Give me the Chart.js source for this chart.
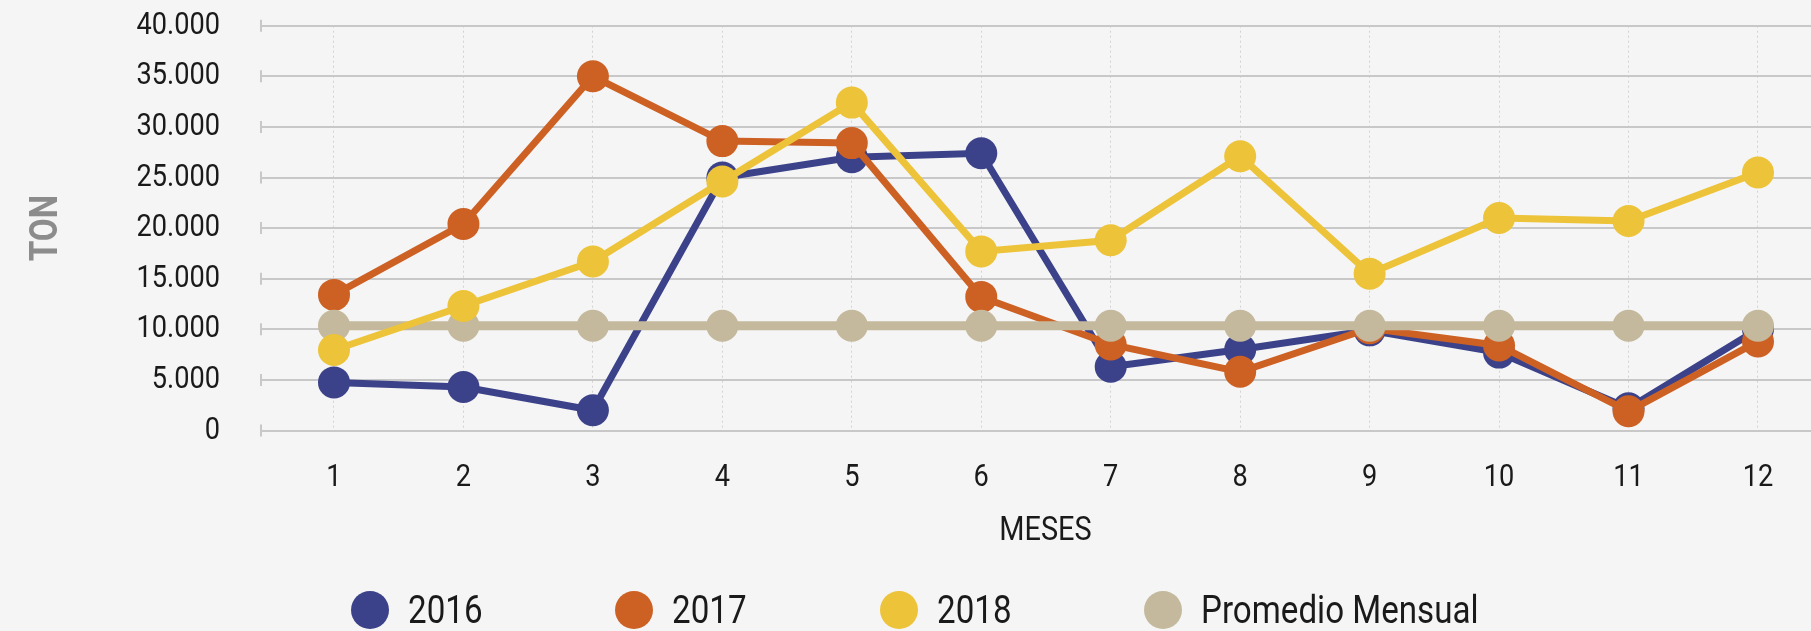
<!DOCTYPE html>
<html>
<head>
<meta charset="utf-8">
<script src="https://cdn.jsdelivr.net/npm/chart.js@4.4.1/dist/chart.umd.min.js"></script>
<style>
  html, body { margin: 0; padding: 0; background: #f5f5f5; overflow: hidden; }
  #wrap { position: relative; width: 1811px; height: 631px; overflow: hidden; }
  canvas { position: absolute; left: 0; top: 0; }
  #legend { position: absolute; left: 0; width: 1830px; top: 590px; height: 40px;
            display: flex; justify-content: center; align-items: center; gap: 133px;
            font-family: Roboto, 'Noto Sans', sans-serif; }
  .item { display: flex; align-items: center; font-size: 39px; line-height: 1; color: #1a1a1a; white-space: nowrap; }
  .dot { width: 38px; height: 38px; border-radius: 50%; margin-right: 19px; flex: none; }
  .txt { display: inline-block; transform: scaleX(0.85); transform-origin: 0 50%; }
</style>
</head>
<body>
<div id="wrap">
  <canvas id="c" width="1831" height="631"></canvas>
  <div id="legend"></div>
</div>
<script>
// ---- data ----
const months = [1, 2, 3, 4, 5, 6, 7, 8, 9, 10, 11, 12];
const seriesNames = ['2016', '2017', '2018', 'Promedio Mensual'];
const values2016 = [4750, 4300, 2000, 25000, 27000, 27400, 6300, 8000, 9900, 7700, 2200, 10000];
const values2017 = [13400, 20400, 35000, 28600, 28400, 13200, 8500, 5800, 10100, 8400, 1900, 8800];
const values2018 = [7950, 12300, 16700, 24600, 32400, 17700, 18800, 27100, 15500, 21000, 20700, 25500];
const valuesPromedio = [10350, 10350, 10350, 10350, 10350, 10350, 10350, 10350, 10350, 10350, 10350, 10350];
const yTicks = [0, 5000, 10000, 15000, 20000, 25000, 30000, 35000, 40000];
const xTitle = 'MESES';
const yTitle = 'TON';

const colors = ['#3c4289', '#cd6124', '#edc33a', '#c4b99d'];
const lineWidths = [7, 7, 7, 9];
const drawOrder = [3, 2, 0, 1]; // yellow on top, then gray, orange, blue
const FONT = "Roboto, 'Noto Sans', sans-serif";
const SX = 0.85; // horizontal condensing of text (condensed face look)

const allSeries = [values2016, values2017, values2018, valuesPromedio];
const fmt = v => String(v).replace(/\B(?=(\d{3})+(?!\d))/g, '.');

// condensed text rendering on the chart canvas
const canvas = document.getElementById('c');
const c2d = canvas.getContext('2d');
const nativeFill = CanvasRenderingContext2D.prototype.fillText;
c2d.fillText = function (text, x, y, maxWidth) {
  this.save();
  this.translate(x, y);
  this.scale(SX, 1);
  if (maxWidth === undefined || maxWidth === null) nativeFill.call(this, text, 0, 0);
  else nativeFill.call(this, text, 0, 0, maxWidth / SX);
  this.restore();
};

const datasets = allSeries.map((vals, i) => ({
  label: seriesNames[i],
  data: months.map((m, j) => ({ x: m, y: vals[j] })),
  borderColor: colors[i],
  backgroundColor: colors[i],
  pointBackgroundColor: colors[i],
  pointBorderWidth: 0,
  pointRadius: 16,
  pointHoverRadius: 16,
  borderWidth: lineWidths[i],
  tension: 0,
  order: drawOrder[i]
}));

const tickMarks = {
  id: 'tickMarks',
  beforeDatasetsDraw(chart) {
    const { ctx, chartArea, scales } = chart;
    ctx.save();
    ctx.strokeStyle = '#c8c8c8';
    ctx.lineWidth = 2;
    scales.y.ticks.forEach(t => {
      const y = scales.y.getPixelForValue(t.value);
      ctx.beginPath();
      ctx.moveTo(chartArea.left + 1, y - 6);
      ctx.lineTo(chartArea.left + 1, y + 6);
      ctx.stroke();
    });
    ctx.restore();
  }
};

const chart = new Chart(canvas, {
  type: 'line',
  data: { datasets },
  plugins: [tickMarks],
  options: {
    responsive: false,
    devicePixelRatio: 1,
    animation: false,
    layout: { autoPadding: false, padding: { top: 25.7, right: 0, bottom: 79.4, left: 0 } },
    plugins: { legend: { display: false }, tooltip: { enabled: false } },
    scales: {
      x: {
        type: 'linear',
        min: 0.4284,
        max: 12.564,
        afterFit: s => { s.height = 121.1; s.paddingLeft = 0; s.paddingRight = 0; },
        border: { display: false, dash: [2, 3] },
        grid: { color: '#d2d2d2', lineWidth: 1, drawTicks: false },
        ticks: {
          stepSize: 1,
          includeBounds: false,
          autoSkip: false,
          maxRotation: 0,
          padding: 28,
          color: '#1a1a1a',
          font: { family: FONT, size: 32 },
          callback: v => (Number.isInteger(v) && months.includes(v)) ? String(v) : ''
        },
        title: { display: true, text: xTitle, color: '#1a1a1a', font: { family: FONT, size: 34 }, padding: { top: 10, bottom: 0 } }
      },
      y: {
        min: 0,
        max: 40000,
        afterFit: s => { s.width = 260; s.paddingTop = 0; s.paddingBottom = 0; },
        afterBuildTicks: s => { s.ticks = yTicks.map(v => ({ value: v })); },
        border: { display: false },
        grid: { color: '#c8c8c8', lineWidth: 2, drawTicks: false },
        ticks: { padding: 40, color: '#1a1a1a', font: { family: FONT, size: 32 }, callback: v => fmt(v) },
        title: { display: true, text: yTitle, color: '#8c8c8c', font: { family: FONT, size: 39, weight: 'bold' }, padding: { top: 24, bottom: 0 } }
      }
    }
  }
});

// HTML legend built from the chart's datasets
const legend = document.getElementById('legend');
chart.data.datasets.forEach(ds => {
  const item = document.createElement('div');
  item.className = 'item';
  const dot = document.createElement('span');
  dot.className = 'dot';
  dot.style.background = ds.backgroundColor;
  const txt = document.createElement('span');
  txt.className = 'txt';
  txt.textContent = ds.label;
  item.appendChild(dot);
  item.appendChild(txt);
  legend.appendChild(item);
  txt.style.marginRight = (-(1 - SX) * txt.offsetWidth) + 'px';
});
</script>
</body>
</html>
